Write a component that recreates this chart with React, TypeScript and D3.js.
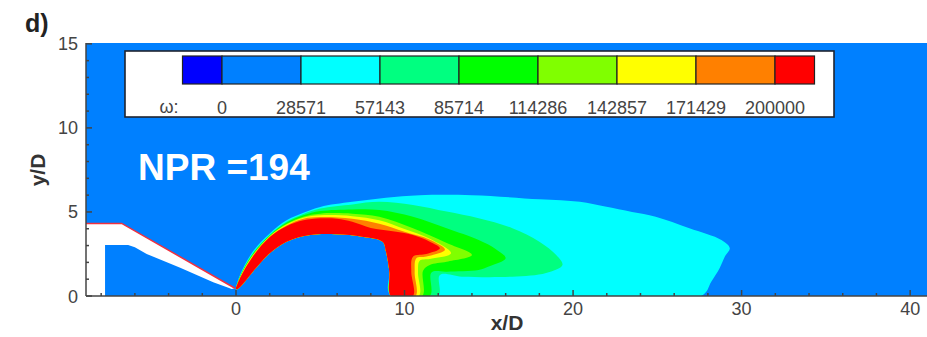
import * as d3 from "d3";

const levels = [0, 28571, 57143, 85714, 114286, 142857, 171429, 200000];
const bandColors = ["#0000ff", "#0080ff", "#00ffff", "#00ff80", "#00ff00", "#80ff00", "#ffff00", "#ff8000", "#ff0000"];
const xTicks = [0, 10, 20, 30, 40];
const yTicks = [0, 5, 10, 15];

// contour outlines in x/D, y/D: from the nozzle lip over the top and down to the floor
const cyanOuter = [[0, 0.4], [0.24, 1.25], [1.0, 2.64], [2.0, 3.72], [3.0, 4.5], [4.0, 4.95], [5.0, 5.3], [6.9, 5.6], [8.9, 5.85], [10.9, 6.0], [14, 6.0], [18, 5.75], [20.4, 5.6], [21.9, 5.32], [23.5, 5.0], [24.9, 4.72], [26.9, 4.03], [28.8, 3.33], [29.3, 2.84], [29.0, 2.34], [28.7, 1.67], [28.2, 0.85], [27.6, 0]];
const springOuter = [[0, 0.4], [0.24, 1.2], [1.0, 2.55], [2.0, 3.65], [3.0, 4.42], [4.0, 4.88], [5.0, 5.2], [6.9, 5.45], [8.5, 5.6], [10.5, 5.42], [12.5, 5.02], [14.4, 4.62], [16.4, 4.03], [18.0, 3.23], [19.0, 2.44], [19.37, 1.85], [18.4, 1.37], [16.4, 1.15], [13.4, 1.15], [12.1, 1.25], [12.0, 0]];
const greenOuter = [[0, 0.4], [0.24, 1.15], [1.0, 2.5], [2.0, 3.6], [3.0, 4.35], [4.0, 4.8], [5.0, 5.05], [6.9, 5.15], [8.5, 5.12], [10.5, 4.72], [12.5, 4.03], [14.4, 3.33], [15.4, 2.8], [16.0, 2.24], [15.0, 1.75], [14.4, 1.55], [12.5, 1.45], [11.6, 1.4], [11.5, 0]];
const limeOuter = [[0, 0.4], [0.24, 1.12], [1.0, 2.45], [2.0, 3.57], [3.0, 4.3], [4.0, 4.72], [5.0, 4.9], [6.9, 4.9], [8.5, 4.72], [10.5, 4.03], [12.5, 3.15], [14.0, 2.44], [12.5, 2.04], [11.5, 1.85], [11.1, 1.5], [11.05, 0]];
const yellowOuter = [[0, 0.4], [0.24, 1.1], [1.0, 2.42], [2.0, 3.55], [3.0, 4.25], [4.0, 4.66], [5.0, 4.8], [6.9, 4.75], [8.5, 4.5], [10.0, 3.98], [11.5, 3.4], [12.76, 2.54], [11.5, 2.2], [10.9, 2.1], [10.8, 1.4], [10.85, 0]];
const orangeOuter = [[0, 0.4], [0.24, 1.08], [1.0, 2.38], [2.0, 3.52], [3.0, 4.2], [4.0, 4.6], [5.0, 4.7], [6.9, 4.6], [8.5, 4.3], [10.0, 3.82], [11.5, 3.35], [12.4, 2.75], [11.3, 2.35], [10.7, 2.25], [10.6, 1.4], [10.65, 0]];
const redOuter = [[0, 0.4], [0.24, 1.05], [1.0, 2.34], [2.0, 3.5], [3.0, 4.15], [4.0, 4.5], [5.0, 4.62], [6.0, 4.6], [6.9, 4.42], [8.0, 4.05], [9.3, 3.85], [10.5, 3.63], [11.5, 3.23], [12.1, 2.84], [11.3, 2.5], [10.5, 2.34], [10.4, 1.45], [10.5, 0]];
// underside of the shear layer: up the left side of the stem and back to the lip
const innerEdge = [[9.2, 0], [9.1, 1.45], [8.9, 2.64], [8.7, 3.23], [7.5, 3.53], [6.0, 3.67], [4.4, 3.63], [3.0, 3.23], [2.0, 2.54], [1.0, 1.45], [0.3, 0.6], [0.05, 0.4]];

const nozzle = [[-8.9, 0], [-8.9, 4.32], [-6.78, 4.32], [-0.06, 0.46], [-0.25, 0.42], [-1.35, 0.82], [-3.31, 1.68], [-5.3, 2.5], [-6.0, 2.9], [-6.4, 3.03], [-7.77, 3.03], [-7.77, 0]];
const nozzleTop = [[-8.9, 4.32], [-6.78, 4.32], [-0.06, 0.46]];

const contours = [cyanOuter, springOuter, greenOuter, limeOuter, yellowOuter, orangeOuter, redOuter];

const W = 927;
const H = 337;
const font = "'Liberation Sans', Arial, sans-serif";

export default function App() {
  const x = d3.scaleLinear().domain([-8.9, 41]).range([86, 927]);
  const y = d3.scaleLinear().domain([0, 15.05]).range([296, 43]);
  const [x0, x1] = x.range();
  const [y0, y1] = y.range();

  const closed = d3
    .line<number[]>()
    .x((d) => x(d[0]))
    .y((d) => y(d[1]))
    .curve(d3.curveCatmullRomClosed.alpha(0.5));
  const straight = d3
    .line<number[]>()
    .x((d) => x(d[0]))
    .y((d) => y(d[1]));

  // colour bar
  const step = levels[1] - levels[0];
  const cb = d3.scaleLinear().domain([0, 200000]).range([222, 775]);
  const edges = [levels[0] - step / 2, ...levels, levels[levels.length - 1] + step / 2];

  const xMinor = d3.range(-8, 41, 2);
  const yMinor = d3.range(0, 16, 1);

  return (
    <svg width={W} height={H} style={{ position: "absolute", left: 0, top: 0, background: "#fff" }} fontFamily={font}>
      <defs>
        <clipPath id="plot">
          <rect x={x0} y={y1} width={x1 - x0} height={y0 - y1} />
        </clipPath>
      </defs>

      <g clipPath="url(#plot)">
        <rect x={x0} y={y1} width={x1 - x0} height={y0 - y1} fill={bandColors[1]} />
        {contours.map((outer, i) => (
          <path key={i} d={closed(outer.concat(innerEdge)) || ""} fill={bandColors[i + 2]} />
        ))}
        <path d={straight(nozzle) + "Z"} fill="#fff" />
        <path d={straight(nozzleTop) || ""} fill="none" stroke="#f03040" strokeWidth={1.5} />
      </g>

      {/* legend */}
      <rect x={125} y={51} width={709} height={66} fill="#fff" stroke="#1e2430" strokeWidth={1.6} />
      {bandColors.map((c, i) => (
        <rect key={i} x={cb(edges[i])} y={56} width={cb(edges[i + 1]) - cb(edges[i])} height={28} fill={c} stroke="#222" strokeWidth={1.2} />
      ))}
      <text x={169} y={113} textAnchor="middle" fontSize={18} fill="#444">ω:</text>
      {levels.map((v) => (
        <text key={v} x={cb(v)} y={114} textAnchor="middle" fontSize={18} fill="#444">{v}</text>
      ))}

      {/* axes */}
      <g stroke="#444" strokeWidth={1.5}>
        <line x1={x0} x2={x1} y1={y0} y2={y0} />
        <line x1={x0} x2={x0} y1={y0} y2={y1} />
        {xMinor.map((t) => (
          <line key={"xm" + t} x1={x(t)} x2={x(t)} y1={y0} y2={y0 - (t % 10 === 0 ? 6 : 3)} />
        ))}
        {yMinor.map((t) => (
          <line key={"ym" + t} x1={x0} x2={x0 + (t % 5 === 0 ? 6 : 3)} y1={y(t)} y2={y(t)} />
        ))}
      </g>
      {xTicks.map((t) => (
        <text key={"xt" + t} x={x(t)} y={315} textAnchor="middle" fontSize={18} fill="#444">{t}</text>
      ))}
      {yTicks.map((t) => (
        <text key={"yt" + t} x={78} y={y(t) + 6.5} textAnchor="end" fontSize={18} fill="#444">{t}</text>
      ))}
      <text x={507} y={330} textAnchor="middle" fontSize={21} fontWeight="bold" fill="#333">x/D</text>
      <text transform="translate(45,170) rotate(-90)" textAnchor="middle" fontSize={21} fontWeight="bold" fill="#333">y/D</text>
      <text x={25} y={32} fontSize={25} fontWeight="bold" fill="#222">d)</text>

      <text x={138} y={180} fontSize={37} fontWeight="bold" fill="#fff">NPR =194</text>
    </svg>
  );
}
